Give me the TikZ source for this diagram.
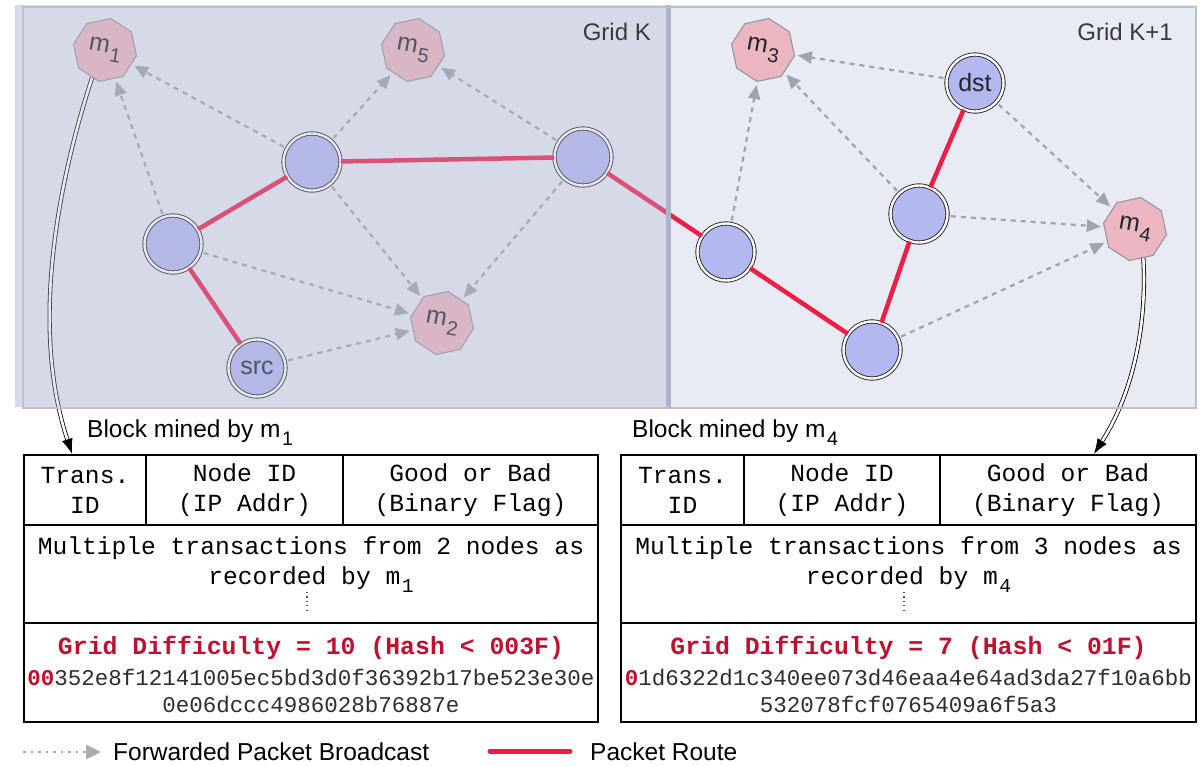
\documentclass[tikz,border=0pt]{standalone}
\usepackage{fontspec}
\setmainfont{Liberation Sans}
\setsansfont{Liberation Sans}
\setmonofont{Liberation Mono}
\usetikzlibrary{shapes.geometric,arrows.meta}

\definecolor{panelbg}{RGB}{232,235,243}
\definecolor{paneltint}{RGB}{180,185,210}
\definecolor{framegrey}{RGB}{188,191,204}
\definecolor{dividergrey}{RGB}{176,179,204}
\definecolor{routered}{RGB}{236,30,70}
\definecolor{peerfill}{RGB}{180,184,240}
\definecolor{minerfill}{RGB}{236,182,192}
\definecolor{minerline}{RGB}{150,150,160}
\definecolor{bcastgrey}{RGB}{160,162,172}
\definecolor{legendgrey}{RGB}{170,170,176}
\definecolor{diffred}{RGB}{192,16,47}
\definecolor{hashgrey}{RGB}{45,45,45}
\definecolor{labelgrey}{RGB}{35,35,45}

% lowered, slightly smaller subscript in the running font
\newcommand\lowsub[1]{\kern0.06em\raisebox{-0.32em}{\scalebox{0.8}{#1}}}

\tikzset{
  peer/.style={circle, fill=peerfill, draw=black!85, line width=0.9pt,
    double=white, double distance=2.4pt, minimum size=57pt, inner sep=0pt,
    text=labelgrey, font=\sffamily\fontsize{25}{25}\selectfont},
  miner/.style={regular polygon, regular polygon sides=8,
    shape border rotate=22, rotate=-10, minimum size=64pt, inner sep=0pt,
    fill=minerfill, draw=minerline, line width=1.1pt,
    text=labelgrey, font=\sffamily\fontsize{25}{25}\selectfont},
  bcast/.style={draw=bcastgrey, line width=2.2pt, dash pattern=on 5pt off 5pt,
    -{Triangle[length=14pt,width=12pt]}, shorten <=3pt, shorten >=3pt},
  route/.style={draw=routered, line width=4.5pt},
  mined/.style={draw=black, line width=0.8pt, double=white, double distance=2.6pt,
    -{Latex[length=15pt,width=11pt]}},
  cell/.style={draw=black, line width=2.4pt, inner sep=0pt, align=center,
    font=\ttfamily\fontsize{24.6}{30}\selectfont},
  monotext/.style={inner sep=0pt, align=center,
    font=\ttfamily\fontsize{24.6}{30}\selectfont},
  difftext/.style={inner sep=0pt, text=diffred,
    font=\ttfamily\bfseries\fontsize{24.8}{30}\selectfont},
  hashtext/.style={inner sep=0pt, text=hashgrey,
    font=\ttfamily\fontsize{22.5}{27}\selectfont},
  sanslabel/.style={inner sep=0pt, font=\sffamily\fontsize{24.5}{28}\selectfont},
  gridlabel/.style={inner sep=0pt, text=labelgrey!90,
    font=\sffamily\fontsize{24}{28}\selectfont},
}

\begin{document}
\begin{tikzpicture}[x=1pt, y=-1pt]
\useasboundingbox (0,0) rectangle (1202,766);

% grid panels
\fill[panelbg] (15,5) rectangle (1197,407);

% miners
\node[miner] (m1) at (105,50) {m\lowsub{1}};
\node[miner] (m5) at (413,50) {m\lowsub{5}};
\node[miner] (m2) at (442,323) {m\lowsub{2}};
\node[miner] (m3) at (763,50) {m\lowsub{3}};
\node[miner] (m4) at (1135,229) {m\lowsub{4}};

% ordinary nodes
\node[peer] (A) at (312,162) {};
\node[peer] (B) at (173,244) {};
\node[peer] (C) at (583,157) {};
\node[peer] (src) at (257,368) {src};
\node[peer] (D) at (726,252) {};
\node[peer] (E) at (872,350) {};
\node[peer] (F) at (919,214) {};
\node[peer] (dst) at (975,83) {dst};

% forwarded broadcasts
\draw[bcast] (B) -- (m1);
\draw[bcast] (A) -- (m1);
\draw[bcast] (A) -- (m5);
\draw[bcast] (C) -- (m5);
\draw[bcast] (A) -- (m2);
\draw[bcast] (C) -- (m2);
\draw[bcast] (B) -- (m2);
\draw[bcast] (src) -- (m2);
\draw[bcast] (D) -- (m3);
\draw[bcast] (F) -- (m3);
\draw[bcast] (dst) -- (m3);
\draw[bcast] (dst) -- (m4);
\draw[bcast] (F) -- (m4);
\draw[bcast] (E) -- (m4);

% packet route
\draw[route] (src) -- (B);
\draw[route] (B) -- (A);
\draw[route] (A) -- (C);
\draw[route] (C) -- (D);
\draw[route] (D) -- (E);
\draw[route] (E) -- (F);
\draw[route] (F) -- (dst);

% block tables
\node[cell, minimum width=122pt, minimum height=70pt] (lt1) at (85,490) {Trans.\\ID};
\node[cell, minimum width=197pt, minimum height=70pt] (lt2) at (244.5,490) {Node ID\\(IP Addr)};
\node[cell, minimum width=255pt, minimum height=70pt] (lt3) at (470.5,490) {Good or Bad\\(Binary Flag)};
\node[cell, minimum width=574pt, minimum height=98pt] (lt4) at (311,574) {};
\node[cell, minimum width=574pt, minimum height=99pt] (lt5) at (311,672.5) {};

\node[cell, minimum width=123pt, minimum height=70pt] (rt1) at (682.5,490) {Trans.\\ID};
\node[cell, minimum width=196pt, minimum height=70pt] (rt2) at (842,490) {Node ID\\(IP Addr)};
\node[cell, minimum width=256pt, minimum height=70pt] (rt3) at (1068,490) {Good or Bad\\(Binary Flag)};
\node[cell, minimum width=575pt, minimum height=98pt] (rt4) at (908.5,574) {};
\node[cell, minimum width=575pt, minimum height=99pt] (rt5) at (908.5,672.5) {};

% mined-by arrows
\draw[mined] (m1.255) .. controls (62,170) and (28,320) .. ([xshift=-13pt]lt1.north);
\draw[mined] (m4.296) .. controls (1147,320) and (1135,390) .. ([xshift=26pt]rt3.north);

% Grid K tint
\fill[paneltint, opacity=0.33] (15,5) rectangle (667,407);
\draw[dividergrey, line width=4.5pt] (668.5,5) -- (668.5,407);
\draw[framegrey, line width=1.5pt] (23,7) rectangle (1196,408);
\node[gridlabel, anchor=east] (gk) at (651,32) {Grid K};
\node[gridlabel, anchor=east] (gk1) at (1173,32) {Grid K+1};

% table contents
\node[sanslabel, anchor=west] (lblock) at (87,433) {Block mined by m\lowsub{1}};
\node[sanslabel, anchor=west] (rblock) at (632,433) {Block mined by m\lowsub{4}};

\node[monotext] (ltx) at (311,565) {Multiple transactions from 2 nodes as\\recorded by m\lowsub{1}};
\node[monotext] (rtx) at (908.5,565) {Multiple transactions from 3 nodes as\\recorded by m\lowsub{4}};
\draw[black!70, line width=1.1pt, dash pattern=on 1.2pt off 3.2pt] (307,592) -- (307,613);
\draw[black!70, line width=1.1pt, dash pattern=on 1.2pt off 3.2pt] (904,592) -- (904,613);

\node[difftext] (ldiff) at (311,648) {Grid Difficulty = 10 (Hash < 003F)};
\node[hashtext] (lh1) at (311,677) {{\color{diffred}\bfseries 00}352e8f12141005ec5bd3d0f36392b17be523e30e};
\node[hashtext] (lh2) at (311,704) {0e06dccc4986028b76887e};

\node[difftext] (rdiff) at (908.5,648) {Grid Difficulty = 7 (Hash < 01F)};
\node[hashtext] (rh1) at (908.5,677) {{\color{diffred}\bfseries 0}1d6322d1c340ee073d46eaa4e64ad3da27f10a6bb};
\node[hashtext] (rh2) at (908.5,704) {532078fcf0765409a6f5a3};

% legend
\coordinate (lgA) at (23,752);
\coordinate (lgB) at (101,752);
\draw[draw=legendgrey, line width=2.2pt, dash pattern=on 2.5pt off 5pt,
  -{Triangle[length=15pt,width=14pt]}] (lgA) -- (lgB);
\node[sanslabel, anchor=west] (lgtxt1) at (113,752) {Forwarded Packet Broadcast};
\coordinate (lgC) at (490,751);
\coordinate (lgD) at (570,751);
\draw[draw=routered, line width=5pt, line cap=round] (lgC) -- (lgD);
\node[sanslabel, anchor=west] (lgtxt2) at (590,752) {Packet Route};
\end{tikzpicture}
\end{document}
